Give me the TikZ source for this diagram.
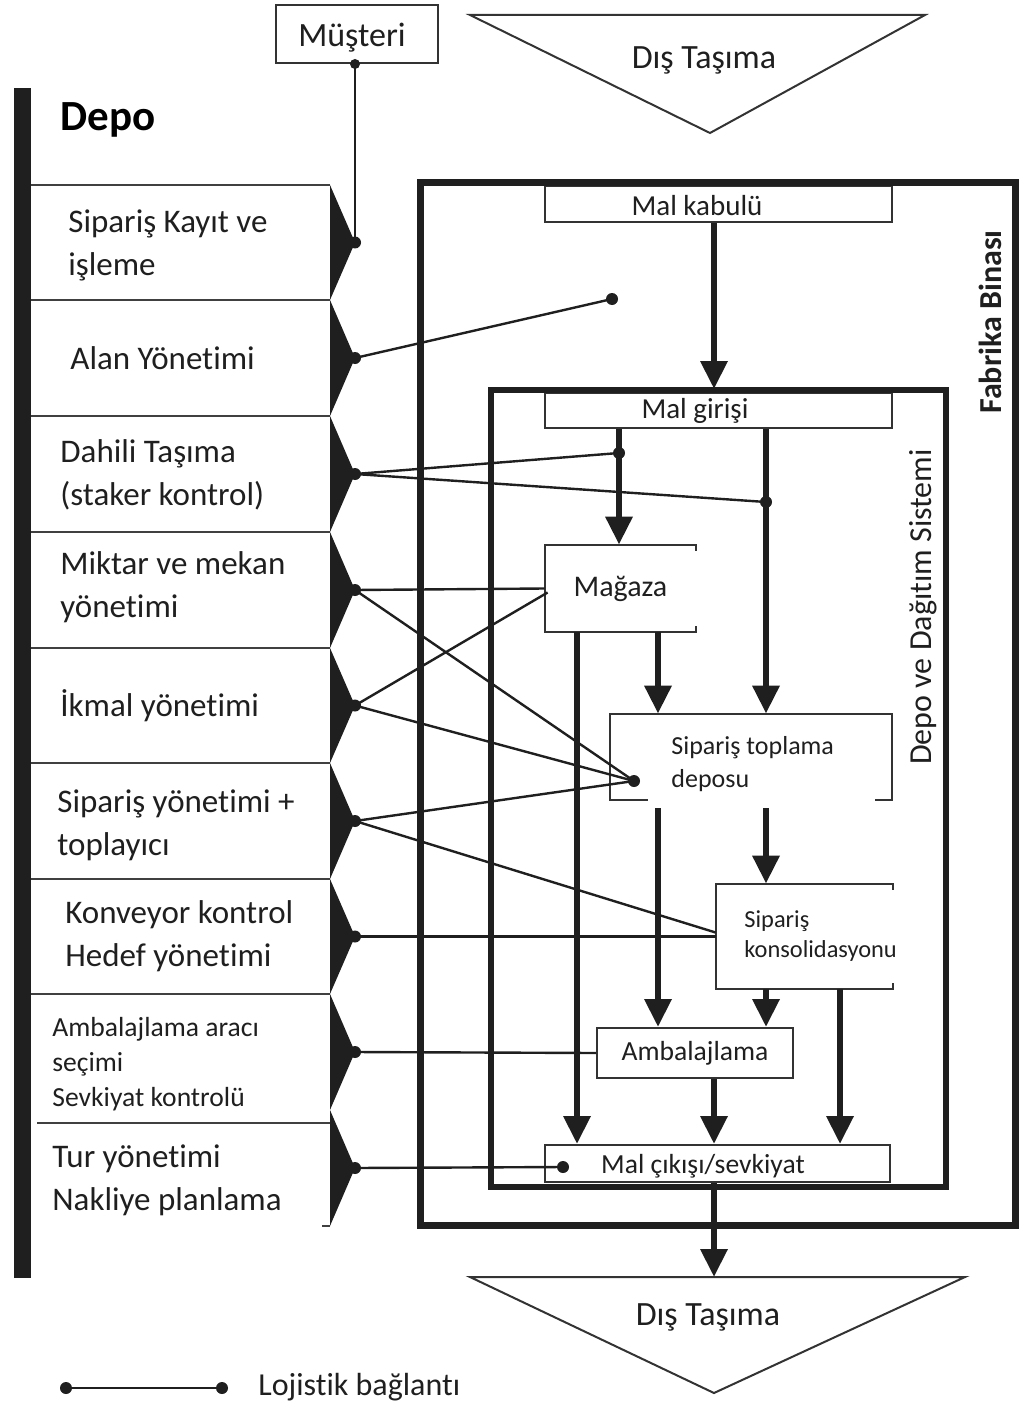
\documentclass[tikz,border=0pt]{standalone}
\usepackage{fontspec}
\setmainfont{Carlito}[Ligatures=NoCommon]
\usetikzlibrary{arrows.meta}
\begin{document}
\begin{tikzpicture}[x=0.5pt,y=-0.5pt,
  thinbox/.style={draw=black!80, line width=1pt, fill=white, inner sep=0pt},
  openbox/.style={inner sep=0pt},
  frame/.style={draw=black!88},
  flow/.style={black!88, line width=3.2pt, -{Triangle[width=13pt,length=14pt]}},
  link/.style={black!88, line width=1.2pt},
  modline/.style={black!75, line width=1pt},
  notch/.style={fill=black!88},
  modtxt/.style={anchor=west, align=left, inner sep=0pt, font=\fontsize{16.5}{21.5}\selectfont, text=black!88},
  boxtxt/.style={inner sep=0pt, text=black!88},
]
\useasboundingbox (0,0) rectangle (1028,1407);

% ---------- customer and external transport ----------
\node[thinbox, minimum width=81pt, minimum height=29pt] (mus) at (357,34) {};
\node[boxtxt, font=\fontsize{17}{20}\selectfont] (mustxt) at (352,38) {Müşteri};
\draw[black!80, line width=1pt] (470,15) -- (925,15) -- (710,133) -- cycle;
\node[boxtxt, font=\fontsize{17}{20}\selectfont] (dt1) at (704,60) {Dış Taşıma};

% ---------- warehouse modules (left column) ----------
\fill[black!88] (14,88) rectangle (31,1278);
\node[anchor=west, inner sep=0pt, font=\fontsize{21.5}{24}\selectfont\bfseries, text=black] (depo) at (60,120) {Depo};

\foreach \yy in {185,300,416,532,648,763,879,994}
  \draw[modline] (31,\yy) -- (330,\yy);
\draw[modline] (37,1123) -- (330,1123);
\draw[modline] (322,1226) -- (330,1226);

\foreach \ya/\yb/\nm in {185/300/m1,300/416/m2,416/532/m3,532/648/m4,648/763/m5,763/879/m6,879/994/m7,994/1110/m8,1110/1226/m9}{
  \fill[notch] (330,\ya) -- (355,{(\ya+\yb)/2}) -- (330,\yb) -- cycle;
  \coordinate (\nm) at (355,{(\ya+\yb)/2});
}

\node[modtxt] (t1) at (68,245) {Sipariş Kayıt ve\\işleme};
\node[modtxt] (t2) at (70,358) {Alan Yönetimi};
\node[modtxt] (t3) at (60,475) {Dahili Taşıma\\(staker kontrol)};
\node[modtxt] (t4) at (60,587) {Miktar ve mekan\\yönetimi};
\node[modtxt] (t5) at (60,706) {İkmal yönetimi};
\node[modtxt] (t6) at (57,825) {Sipariş yönetimi +\\toplayıcı};
\node[modtxt] (t7) at (65,936) {Konveyor kontrol\\Hedef yönetimi};
\node[modtxt, font=\fontsize{13.8}{17.5}\selectfont] (t8) at (52,1064) {Ambalajlama aracı\\seçimi\\Sevkiyat kontrolü};
\node[modtxt] (t9) at (52,1180) {Tur yönetimi\\Nakliye planlama};

% ---------- process boxes ----------
\node[thinbox, minimum width=173.5pt, minimum height=18pt] (kab) at (718.5,204) {};
\node[boxtxt, font=\fontsize{14.5}{17}\selectfont] (kabtxt) at (697,206) {Mal kabulü};
\node[thinbox, minimum width=173.5pt, minimum height=17.5pt] (gir) at (718.5,410.5) {};
\node[boxtxt, font=\fontsize{14.5}{17}\selectfont] (girtxt) at (695,411) {Mal girişi};

\node[openbox, minimum width=75.5pt, minimum height=43.5pt, font=\fontsize{15}{18}\selectfont, text=black!88] (mag) at (620.5,588.5) {Mağaza};
\draw[black!80, line width=1pt] ([yshift=-3pt]mag.north east) -- (mag.north east) -- (mag.north west)
  -- (mag.south west) -- (mag.south east) -- ([yshift=3pt]mag.south east);

\node[openbox, minimum width=141pt, minimum height=43pt] (top) at (751,757) {};
\node[anchor=west, align=left, inner sep=0pt, font=\fontsize{13}{16.5}\selectfont, text=black!88] (toptxt) at (671,764) {Sipariş toplama\\deposu};
\draw[black!80, line width=1pt] ([xshift=19pt]top.south west) -- (top.south west) -- (top.north west)
  -- (top.north east) -- (top.south east) -- ([xshift=-8.5pt]top.south east);

\node[openbox, minimum width=88.5pt, minimum height=52.5pt] (kon) at (804.5,936.5) {};
\node[anchor=west, align=left, inner sep=0pt, font=\fontsize{12.2}{15}\selectfont, text=black!88] (kontxt) at (744,936) {Sipariş\\konsolidasyonu};
\draw[black!80, line width=1pt] ([yshift=-3pt]kon.north east) -- (kon.north east) -- (kon.north west)
  -- (kon.south west) -- (kon.south east) -- ([yshift=3pt]kon.south east);

\node[thinbox, minimum width=98pt, minimum height=25pt, font=\fontsize{13.8}{17}\selectfont, text=black!88] (amb) at (695,1053) {Ambalajlama};
\node[thinbox, minimum width=172.5pt, minimum height=18.5pt] (cik) at (717.5,1163.5) {};
\node[boxtxt, font=\fontsize{13.8}{17}\selectfont] (ciktxt) at (703,1166) {Mal çıkışı/sevkiyat};

% ---------- building frames ----------
\draw[frame, line width=3.5pt] (420,183) rectangle (1015,1225);
\draw[frame, line width=3pt] (491,390) rectangle (946,1187);
\node[rotate=90, inner sep=0pt, font=\fontsize{16}{18}\selectfont\bfseries, text=black!88] (fab) at (990,322) {Fabrika Binası};
\node[rotate=90, inner sep=0pt, font=\fontsize{16}{18}\selectfont, text=black!88] (dds) at (923,607) {Depo ve Dağıtım Sistemi};

% ---------- material flow ----------
\coordinate (cA) at (577,0);
\coordinate (cB) at (619,0);
\coordinate (cC) at (658,0);
\coordinate (cD) at (766,0);
\coordinate (cE) at (840,0);
\coordinate (cF) at (714,0);

\draw[flow] (kab.south -| cF) -- ([yshift=1.5pt]gir.north -| cF);
\draw[flow] (gir.south -| cB) -- (mag.north -| cB);
\draw[flow] (gir.south -| cD) -- (top.north -| cD);
\draw[flow] (mag.south -| cA) -- (cik.north -| cA);
\draw[flow] (mag.south -| cC) -- (top.north -| cC);
\draw[flow] ([yshift=-4pt]top.south -| cC) -- (amb.north -| cC);
\draw[flow] ([yshift=-4pt]top.south -| cD) -- (kon.north -| cD);
\draw[flow] (kon.south -| cD) -- (amb.north -| cD);
\draw[flow] (kon.south -| cE) -- (cik.north -| cE);
\draw[flow] (amb.south -| cF) -- (cik.north -| cF);

\draw[black!80, line width=1pt] (470,1277) -- (965,1277) -- (714,1393) -- cycle;
\coordinate (dt2top) at (714,1277);
\node[boxtxt, font=\fontsize{17}{20}\selectfont] (dt2) at (708,1317) {Dış Taşıma};
\draw[flow] (cik.south -| cF) -- (dt2top);

% ---------- logistic links ----------
\coordinate (dAlan) at (612,299);
\coordinate (dB) at (619,453);
\coordinate (dD) at (766,502);
\coordinate (dTop) at (634,781);
\coordinate (dCik) at (563,1167);

\draw[link] (mus.south -| m1) -- (m1);
\draw[link] (m2) -- (dAlan);
\draw[link] (m3) -- (dB);
\draw[link] (m3) -- (dD);
\draw[link] (m4) -- (mag.west);
\draw[link] (m4) -- (dTop);
\draw[link] (m5) -- ([xshift=1.5pt,yshift=-2pt]mag.west);
\draw[link] (m5) -- (dTop);
\draw[link] (m6) -- (dTop);
\draw[link] (m6) -- ([yshift=2pt]kon.west);
\draw[link] (m7) -- (kon.west);
\draw[link] (m8) -- (amb.west);
\draw[link] (m9) -- (dCik);

\foreach \p in {m1,m2,m3,m4,m5,m6,m7,m8,m9,dAlan,dB,dD,dTop,dCik}
  \fill[black!88] (\p) circle[radius=3pt];
\fill[black!88] (mus.south -| m1) circle[radius=2.5pt];

% ---------- legend ----------
\coordinate (lg1) at (66,1388);
\coordinate (lg2) at (222,1388);
\draw[link] (lg1) -- (lg2);
\fill[black!88] (lg1) circle[radius=3pt];
\fill[black!88] (lg2) circle[radius=3pt];
\node[anchor=west, inner sep=0pt, font=\fontsize{16}{18}\selectfont, text=black!88] (lgt) at (258,1387) {Lojistik bağlantı};

\end{tikzpicture}
\end{document}
